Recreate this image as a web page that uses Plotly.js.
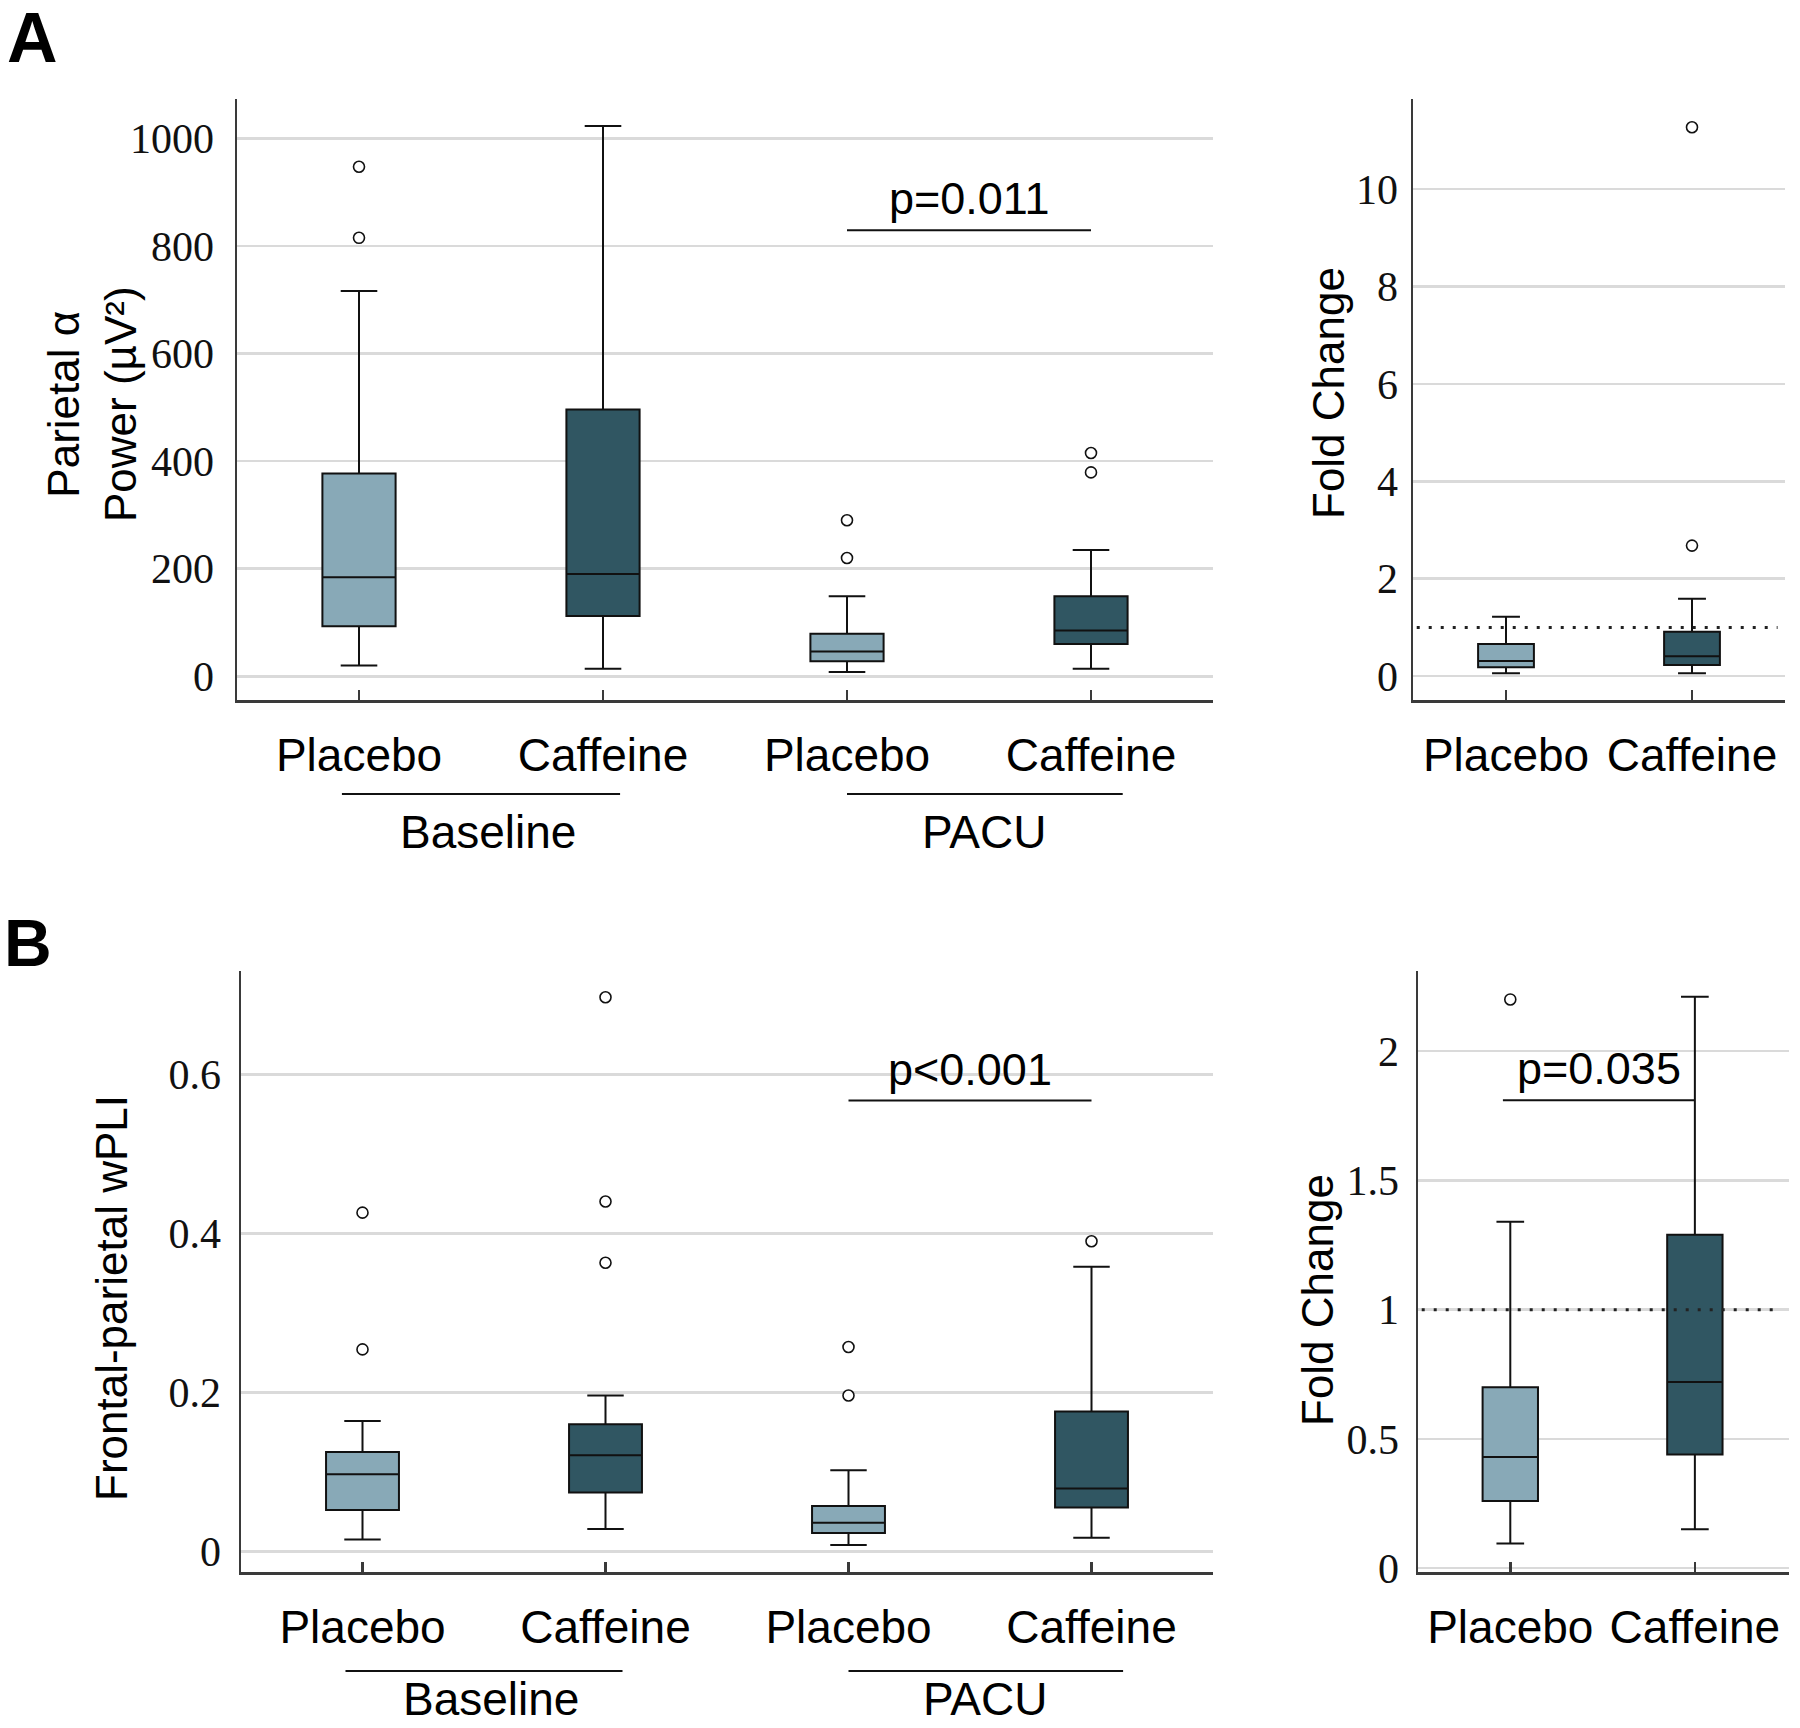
<!DOCTYPE html>
<html>
<head>
<meta charset="utf-8">
<script src="https://cdn.plot.ly/plotly-3.0.1.min.js"></script>
<style>body{margin:0;background:#fff}</style>
</head>
<body>
<div id="chart" style="width:1800px;height:1728px"></div>
<script>
// ---- categories ----
const groups4 = ["Baseline Placebo", "Baseline Caffeine", "PACU Placebo", "PACU Caffeine"];
const labels4 = ["Placebo", "Caffeine", "Placebo", "Caffeine"];
const groups2 = ["Placebo", "Caffeine"];

// ---- A: parietal alpha power (µV²) ----
const alphaPlaceboX = ["Baseline Placebo", "PACU Placebo"];
const alphaPlaceboQ1 = [93, 28];
const alphaPlaceboMed = [184, 46];
const alphaPlaceboQ3 = [377, 79];
const alphaPlaceboLo = [20, 8];
const alphaPlaceboHi = [716, 149];
const alphaCaffeineX = ["Baseline Caffeine", "PACU Caffeine"];
const alphaCaffeineQ1 = [112, 60];
const alphaCaffeineMed = [190, 85];
const alphaCaffeineQ3 = [496, 149];
const alphaCaffeineLo = [14, 14];
const alphaCaffeineHi = [1023, 235];
const alphaOutX = ["Baseline Placebo", "Baseline Placebo", "PACU Placebo", "PACU Placebo", "PACU Caffeine", "PACU Caffeine"];
const alphaOutY = [947, 815, 290, 220, 415, 379];

// ---- A: fold change ----
const fcA_Q1 = [0.18, 0.23];
const fcA_Med = [0.31, 0.41];
const fcA_Q3 = [0.66, 0.91];
const fcA_Lo = [0.06, 0.06];
const fcA_Hi = [1.22, 1.59];
const fcA_OutX = ["Caffeine", "Caffeine"];
const fcA_OutY = [11.27, 2.68];

// ---- B: frontal-parietal wPLI ----
const wpliPlaceboQ1 = [0.052, 0.023];
const wpliPlaceboMed = [0.097, 0.036];
const wpliPlaceboQ3 = [0.125, 0.057];
const wpliPlaceboLo = [0.015, 0.008];
const wpliPlaceboHi = [0.164, 0.102];
const wpliCaffeineQ1 = [0.074, 0.055];
const wpliCaffeineMed = [0.121, 0.079];
const wpliCaffeineQ3 = [0.160, 0.176];
const wpliCaffeineLo = [0.028, 0.017];
const wpliCaffeineHi = [0.196, 0.358];
const wpliOutX = ["Baseline Placebo", "Baseline Placebo", "Baseline Caffeine", "Baseline Caffeine", "Baseline Caffeine", "PACU Placebo", "PACU Placebo", "PACU Caffeine"];
const wpliOutY = [0.426, 0.254, 0.697, 0.440, 0.363, 0.257, 0.196, 0.390];

// ---- B: fold change ----
const fcB_Q1 = [0.26, 0.44];
const fcB_Med = [0.43, 0.72];
const fcB_Q3 = [0.70, 1.29];
const fcB_Lo = [0.095, 0.15];
const fcB_Hi = [1.34, 2.21];
const fcB_OutX = ["Placebo"];
const fcB_OutY = [2.20];

// p-values
const pA = "p=0.011", pAy = 829;
const pB = "p<0.001", pBy = 0.567;
const pBfc = "p=0.035", pBfcY = 1.81;

// ---- styling ----
const W = 1800, H = 1728;
const px = v => v / W;
const py = v => 1 - v / H;
const LIGHT = "#88a9b7";
const DARK = "#305662";
const SANS = "Liberation Sans, Arial, sans-serif";
const SERIF = "Liberation Serif, Times New Roman, serif";
const AXC = "#3a3a3a";

function box(x, q1, med, q3, lo, hi, fill, xa, ya) {
  return {
    type: "box", x: x, q1: q1, median: med, q3: q3, lowerfence: lo, upperfence: hi,
    fillcolor: fill, line: {color: "#111", width: 2}, width: 0.3, whiskerwidth: 0.5,
    boxpoints: false, xaxis: xa, yaxis: ya, hoverinfo: "skip"
  };
}
function outliers(x, y, xa, ya) {
  return {
    type: "scatter", mode: "markers", x: x, y: y, xaxis: xa, yaxis: ya,
    marker: {symbol: "circle", size: 11, color: "#fff", line: {color: "#111", width: 1.6}},
    hoverinfo: "skip"
  };
}

const traces = [
  box(alphaPlaceboX, alphaPlaceboQ1, alphaPlaceboMed, alphaPlaceboQ3, alphaPlaceboLo, alphaPlaceboHi, LIGHT, "x", "y"),
  box(alphaCaffeineX, alphaCaffeineQ1, alphaCaffeineMed, alphaCaffeineQ3, alphaCaffeineLo, alphaCaffeineHi, DARK, "x", "y"),
  outliers(alphaOutX, alphaOutY, "x", "y"),
  box([groups2[0]], [fcA_Q1[0]], [fcA_Med[0]], [fcA_Q3[0]], [fcA_Lo[0]], [fcA_Hi[0]], LIGHT, "x2", "y2"),
  box([groups2[1]], [fcA_Q1[1]], [fcA_Med[1]], [fcA_Q3[1]], [fcA_Lo[1]], [fcA_Hi[1]], DARK, "x2", "y2"),
  outliers(fcA_OutX, fcA_OutY, "x2", "y2"),
  box(alphaPlaceboX, wpliPlaceboQ1, wpliPlaceboMed, wpliPlaceboQ3, wpliPlaceboLo, wpliPlaceboHi, LIGHT, "x3", "y3"),
  box(alphaCaffeineX, wpliCaffeineQ1, wpliCaffeineMed, wpliCaffeineQ3, wpliCaffeineLo, wpliCaffeineHi, DARK, "x3", "y3"),
  outliers(wpliOutX, wpliOutY, "x3", "y3"),
  box([groups2[0]], [fcB_Q1[0]], [fcB_Med[0]], [fcB_Q3[0]], [fcB_Lo[0]], [fcB_Hi[0]], LIGHT, "x4", "y4"),
  box([groups2[1]], [fcB_Q1[1]], [fcB_Med[1]], [fcB_Q3[1]], [fcB_Lo[1]], [fcB_Hi[1]], DARK, "x4", "y4"),
  outliers(fcB_OutX, fcB_OutY, "x4", "y4")
];

function xAx(domain, cats, labels, range, anchor) {
  return {
    domain: domain, anchor: anchor, type: "category", categoryorder: "array", categoryarray: cats,
    tickvals: cats, ticktext: labels, range: range, showgrid: false, zeroline: false,
    showline: true, linecolor: AXC, linewidth: 2.5, ticks: "inside", ticklen: 10, tickwidth: 2.5,
    tickcolor: AXC, ticklabelstandoff: 13, tickfont: {family: SANS, size: 46, color: "#000"}, fixedrange: true
  };
}
function yAx(domain, range, dtick, anchor, standoff) {
  return {
    domain: domain, anchor: anchor, range: range, tick0: 0, dtick: dtick,
    showgrid: true, gridcolor: "#dadada", gridwidth: 2.5, zeroline: false,
    showline: true, linecolor: AXC, linewidth: 2.5, ticks: "", ticklabelstandoff: standoff,
    tickfont: {family: SERIF, size: 42, color: "#111"}, fixedrange: true
  };
}

const yDomA = [py(700), py(99)];
const yDomB = [py(1572), py(971)];

const layout = {
  width: W, height: H, margin: {l: 0, r: 0, t: 0, b: 0},
  paper_bgcolor: "#fff", plot_bgcolor: "#fff", showlegend: false, boxmode: "overlay",
  xaxis: xAx([px(237), px(1213)], groups4, labels4, [-0.5, 3.5], "y"),
  yaxis: yAx(yDomA, [-44, 1073], 200, "x", 12),
  xaxis2: xAx([px(1413), px(1785)], groups2, groups2, [-0.5, 1.5], "y2"),
  yaxis2: yAx(yDomA, [-0.49, 11.85], 2, "x2", 4),
  xaxis3: xAx([px(241), px(1213)], groups4, labels4, [-0.5, 3.5], "y3"),
  yaxis3: yAx(yDomB, [-0.026, 0.73], 0.2, "x3", 9),
  xaxis4: xAx([px(1418), px(1789)], groups2, groups2, [-0.5, 1.51], "y4"),
  yaxis4: yAx(yDomB, [-0.015, 2.31], 0.5, "x4", 8),
  shapes: [],
  annotations: []
};

const lineStyle = {color: "#111", width: 2};
const dotStyle = {color: "#222", width: 3, dash: "3px,9px"};

function note(props) {
  layout.annotations.push(Object.assign({showarrow: false, xanchor: "center", yanchor: "middle"}, props));
}

// group underline + label under the four-box panels
function groupLabels(xa, lineY, textY, anchor) {
  layout.shapes.push(
    {type: "line", xref: xa, yref: "paper", x0: -0.07, x1: 1.07, y0: py(lineY), y1: py(lineY), line: lineStyle},
    {type: "line", xref: xa, yref: "paper", x0: 2.0, x1: 3.13, y0: py(lineY), y1: py(lineY), line: lineStyle}
  );
  note({xref: xa, yref: "paper", x: 0.53, y: py(textY), yanchor: anchor, text: "Baseline", font: {family: SANS, size: 46, color: "#000"}});
  note({xref: xa, yref: "paper", x: 2.56, y: py(textY), yanchor: anchor, text: "PACU", font: {family: SANS, size: 46, color: "#000"}});
}
groupLabels("x", 794, 832, "middle");
groupLabels("x3", 1671, 1727, "bottom");

// significance bars
function sig(xa, ya, x0, x1, y, text) {
  layout.shapes.push({type: "line", xref: xa, yref: ya, x0: x0, x1: x1, y0: y, y1: y, line: lineStyle, layer: "above"});
  note({xref: xa, yref: ya, x: (x0 + x1) / 2, y: y, yanchor: "bottom", yshift: 4, text: text, font: {family: SANS, size: 45, color: "#000"}});
}
sig("x", "y", 2, 3, pAy, pA);
sig("x3", "y3", 2, 3, pBy, pB);
sig("x4", "y4", -0.04, 1.0, pBfcY, pBfc);

// reference line at fold change = 1
layout.shapes.push(
  {type: "line", xref: "x2 domain", yref: "y2", x0: 0.01, x1: 0.98, y0: 1, y1: 1, line: dotStyle, layer: "above"},
  {type: "line", xref: "x4 domain", yref: "y4", x0: 0.01, x1: 0.97, y0: 1, y1: 1, line: dotStyle, layer: "above"}
);

// axis titles
function vtitle(x, y, text) {
  note({xref: "paper", yref: "paper", x: px(x), y: py(y), text: text, textangle: -90, font: {family: SANS, size: 44, color: "#000"}});
}
vtitle(92, 404, "Parietal α<br>Power (µV²)");
vtitle(1328, 393, "Fold Change");
vtitle(111, 1298, "Frontal-parietal wPLI");
vtitle(1317, 1300, "Fold Change");

// panel letters
note({xref: "paper", yref: "paper", x: px(32), y: py(38), text: "<b>A</b>", font: {family: SANS, size: 70, color: "#000"}});
note({xref: "paper", yref: "paper", x: px(28), y: py(943), text: "<b>B</b>", font: {family: SANS, size: 66, color: "#000"}});

Plotly.newPlot("chart", traces, layout, {staticPlot: true, displayModeBar: false});
</script>
</body>
</html>
